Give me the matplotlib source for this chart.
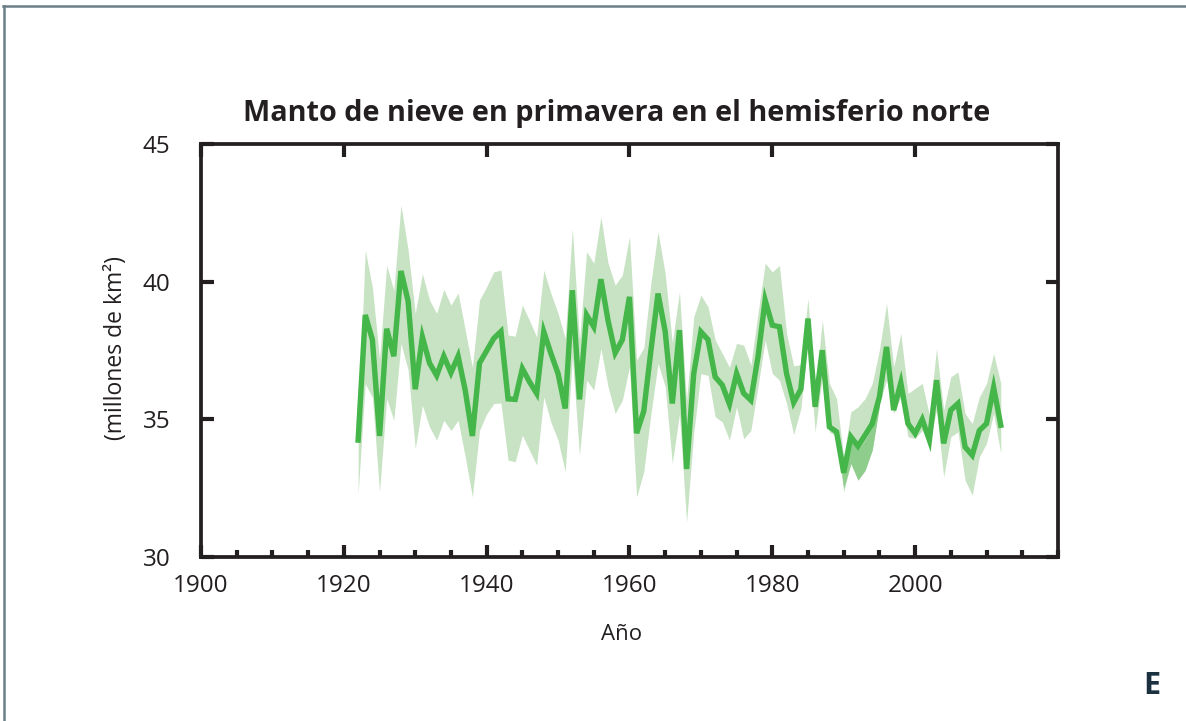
import matplotlib
matplotlib.use("Agg")
import matplotlib.pyplot as plt
from matplotlib.ticker import MultipleLocator, FixedLocator
from matplotlib.lines import Line2D
import numpy as np

years = list(range(1922, 2013))
snow_cover = [34.25, 38.8, 37.9, 34.4, 38.3, 37.3, 40.4, 39.3, 36.1, 38.0,
              37.05, 36.6, 37.3, 36.7, 37.3, 36.06, 34.4, 37.05, 37.5, 37.95,
              38.2, 35.75, 35.73, 36.85, 36.37, 35.95, 38.19, 37.4, 36.67, 35.4,
              39.7, 35.73, 38.8, 38.37, 40.1, 38.6, 37.42, 37.9, 39.46, 34.5,
              35.3, 37.5, 39.58, 38.2, 35.58, 38.25, 33.2, 36.67, 38.19, 37.9,
              36.55, 36.25, 35.56, 36.67, 35.95, 35.7, 37.28, 39.34, 38.43, 38.37,
              36.67, 35.62, 36.1, 38.67, 35.46, 37.52, 34.73, 34.55, 33.06, 34.37,
              34.03, 34.43, 34.85, 35.82, 37.64, 35.34, 36.33, 34.85, 34.49, 35.0,
              34.25, 36.43, 34.13, 35.34, 35.58, 34.0, 33.7, 34.6, 34.85, 36.16,
              34.79]
upper = [34.8, 41.16, 39.8, 37.2, 40.6, 39.7, 42.8, 41.16, 38.86, 40.3,
         39.34, 38.86, 39.73, 39.16, 39.6, 38.25, 36.9, 39.34, 39.83, 40.37,
         40.43, 38.07, 38.03, 39.16, 38.6, 38.0, 40.43, 39.58, 38.86, 37.95,
         41.95, 37.89, 41.1, 40.68, 42.37, 40.68, 39.89, 40.25, 41.65, 37.16,
         37.6, 39.96, 41.83, 40.3, 37.8, 39.64, 35.7, 38.73, 39.52, 39.1,
         37.9, 37.4, 36.9, 37.77, 37.7, 36.98, 38.86, 40.68, 40.37, 40.6,
         38.13, 36.95, 37.0, 39.4, 35.95, 38.61, 36.31, 35.76, 33.64, 35.28,
         35.46, 35.76, 36.31, 37.52, 39.22, 36.91, 38.13, 35.95, 36.13, 36.31,
         35.16, 37.58, 35.34, 36.55, 36.73, 35.22, 34.85, 35.82, 36.31, 37.4,
         36.31]
lower = [32.3, 36.3, 35.8, 32.37, 35.76, 34.97, 37.77, 36.8, 33.94, 35.52,
         34.73, 34.25, 34.97, 34.6, 34.97, 33.64, 32.18, 34.6, 35.2, 35.58,
         35.6, 33.52, 33.46, 34.43, 33.88, 33.34, 35.82, 34.9, 34.25, 33.1,
         37.28, 33.7, 36.43, 36.07, 37.58, 36.19, 35.22, 35.7, 36.91, 32.18,
         33.1, 35.2, 37.04, 36.19, 33.4, 35.2, 31.27, 34.5, 36.67, 36.6,
         35.1, 34.91, 34.25, 35.46, 34.3, 34.6, 36.19, 37.89, 36.67, 36.43,
         35.58, 34.45, 35.4, 37.8, 34.55, 36.55, 34.55, 34.37, 32.37, 33.4,
         32.79, 33.15, 33.88, 35.58, 36.43, 35.22, 35.82, 34.37, 34.31, 34.61,
         34.13, 35.34, 32.91, 34.37, 34.55, 32.79, 32.25, 33.64, 34.13, 35.22,
         33.76]
# darker overlap band (early 1990s)
dark_years = [1989, 1990, 1991, 1992, 1993, 1994, 1995]
dark_upper = [34.5, 33.3, 34.25, 33.9, 34.25, 34.7, 35.7]
dark_lower = [34.4, 32.5, 33.4, 32.8, 33.15, 33.9, 35.46]

x_tick_labels = [1900, 1920, 1940, 1960, 1980, 2000]
y_tick_labels = [30, 35, 40, 45]

title = "Manto de nieve en primavera en el hemisferio norte"
xlabel = "Año"
ylabel = "(millones de km²)"

LINE = "#45b649"
BAND = "#c8e3c4"
DARK = "#8fcd8c"
INK = "#231f20"

plt.rcParams['font.family'] = ['Open Sans', 'DejaVu Sans']

fig = plt.figure(figsize=(11.86, 7.21), dpi=100)
ax = fig.add_axes([0.1695, 0.2275, 0.7225, 0.5721])

ax.fill_between(years, lower, upper, color=BAND, lw=0, zorder=1)
ax.fill_between(dark_years, dark_lower, dark_upper, color=DARK, lw=0, zorder=2)
ax.plot(years, snow_cover, color=LINE, lw=3.9, solid_joinstyle='miter', zorder=3)

ax.set_xlim(1900, 2020)
ax.set_ylim(30, 45)
ax.xaxis.set_major_locator(FixedLocator(x_tick_labels))
ax.xaxis.set_minor_locator(MultipleLocator(5))
ax.yaxis.set_major_locator(FixedLocator(y_tick_labels))

for s in ax.spines.values():
    s.set_linewidth(2.7)
    s.set_color(INK)

ax.tick_params(axis='x', which='major', direction='in', length=9, width=3,
               top=True, bottom=True, labelsize=17.5, pad=12, colors=INK)
ax.tick_params(axis='x', which='minor', direction='in', length=5, width=3,
               top=False, bottom=True, colors=INK)
ax.tick_params(axis='y', which='major', direction='in', length=9, width=3,
               left=True, right=True, labelsize=17.5, pad=22, colors=INK)

fig.text(617 / 1186, 1 - 113 / 721, title, fontsize=20.8, fontweight='bold',
         color=INK, ha='center', va='center')
fig.text(622 / 1186, 1 - 634 / 721, xlabel, fontsize=16, color=INK,
         ha='center', va='center')
fig.text(116 / 1186, 1 - 348 / 721, ylabel, rotation=90, fontsize=16.5,
         color=INK, ha='center', va='center')

fig.text(1152 / 1186, 1 - 686 / 721, "E", fontsize=22, fontweight='bold',
         color="#1b3140", ha='center', va='center')

# frame border (top and left edges)
fig.add_artist(Line2D([0.0025, 1.0], [1 - 5.5 / 721, 1 - 5.5 / 721],
                      transform=fig.transFigure, color="#6b7f86", lw=1.8))
fig.add_artist(Line2D([3.5 / 1186, 3.5 / 1186], [0.0, 1 - 5.5 / 721],
                      transform=fig.transFigure, color="#6b7f86", lw=1.8))

fig.savefig("out.png", dpi=100)
